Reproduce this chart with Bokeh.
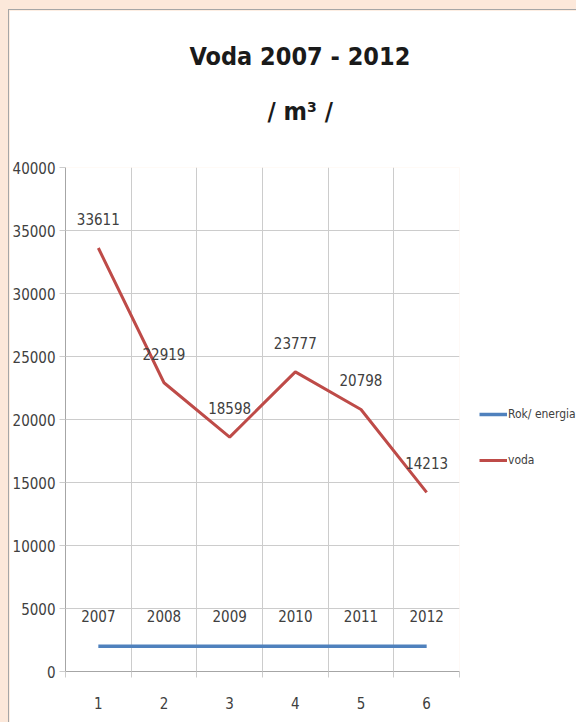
from bokeh.plotting import figure
from bokeh.models import FixedTicker, Legend, LegendItem, LabelSet, ColumnDataSource, Range1d, Title
from bokeh.embed import file_html
from bokeh.resources import INLINE
from bokeh.core.properties import value

# ---- data ----
categories = [1, 2, 3, 4, 5, 6]
rok_energia = [2007, 2008, 2009, 2010, 2011, 2012]
voda = [33611, 22919, 18598, 23777, 20798, 14213]
y_ticks = [0, 5000, 10000, 15000, 20000, 25000, 30000, 35000, 40000]
title_line1 = "Voda 2007 - 2012"
title_line2 = "/ m³ /"
legend_labels = ["Rok/ energia", "voda"]

FONT = "DejaVu Sans Condensed"
BLUE = "#4F81BD"
RED = "#BE4B48"
GRID = "#CCCCCC"
TXT = "#404040"

p = figure(frame_width=394, frame_height=504, output_backend="svg", toolbar_location=None,
           x_range=Range1d(0.5, len(categories) + 0.5), y_range=Range1d(0, 40000),
           min_border_left=54, min_border_right=119, min_border_top=157, min_border_bottom=51)
p.background_fill_color = "white"
p.border_fill_color = "white"
p.outline_line_color = None
p.styles = {"outline": "1px solid #A6A6A6"}

# axes
bounds = [c - 0.5 for c in categories] + [categories[-1] + 0.5]
p.xaxis.ticker = FixedTicker(ticks=categories, minor_ticks=bounds)
p.xaxis.major_tick_line_alpha = 0
p.xaxis.major_tick_out = 6
p.xaxis.major_tick_in = 0
p.xaxis.minor_tick_out = 6
p.xaxis.minor_tick_in = 0
p.xaxis.minor_tick_line_color = GRID
p.xaxis.axis_line_color = "#A6A6A6"
p.xaxis.major_label_standoff = 19
p.yaxis.ticker = FixedTicker(ticks=y_ticks)
p.yaxis.major_tick_out = 6
p.yaxis.major_tick_in = 0
p.yaxis.minor_tick_line_color = None
p.yaxis.major_tick_line_color = GRID
p.yaxis.axis_line_color = "#A6A6A6"
p.yaxis.major_label_standoff = 4
for ax in (p.xaxis, p.yaxis):
    ax.major_label_text_font = FONT
    ax.major_label_text_font_size = "15px"
    ax.major_label_text_color = TXT

p.xgrid.ticker = FixedTicker(ticks=bounds)
p.xgrid.grid_line_color = GRID
p.ygrid.grid_line_color = GRID

# series
r_blue = p.line(categories, rok_energia, line_color=BLUE, line_width=3.5)
r_red = p.line(categories, voda, line_color=RED, line_width=3)

src_blue = ColumnDataSource(dict(x=categories, y=rok_energia, t=[str(v) for v in rok_energia]))
src_red = ColumnDataSource(dict(x=categories, y=voda, t=[str(v) for v in voda]))
for src, off in ((src_blue, 30), (src_red, 29)):
    p.add_layout(LabelSet(x="x", y="y", text="t", source=src, y_offset=off,
                          text_align="center", text_baseline="middle",
                          text_font=value(FONT), text_font_size="15px", text_color=TXT))

# title (two lines)
t2 = Title(text=title_line2, align="left", offset=202, standoff=83,
           text_font=FONT, text_font_size="25px", text_font_style="bold", text_color="#1A1A1A")
t1 = Title(text=title_line1, align="left", offset=124, standoff=-35,
           text_font=FONT, text_font_size="25px", text_font_style="bold", text_color="#1A1A1A")
p.add_layout(t2, "above")
p.add_layout(t1, "above")

# legend
legend = Legend(items=[LegendItem(label=legend_labels[0], renderers=[r_blue]),
                       LegendItem(label=legend_labels[1], renderers=[r_red])],
                location=(20, 201), padding=0, margin=0, spacing=26,
                glyph_width=28, glyph_height=20, label_height=20, label_standoff=1,
                border_line_alpha=0, background_fill_alpha=0,
                label_text_font=FONT, label_text_font_size="12px", label_text_color=TXT)
p.add_layout(legend, "right")

html = file_html(p, INLINE)
html = html.replace("<body>", '<body style="background-color:#FCE8DA;padding:10px 0 0 9px">')
open("out.html", "w").write(html)
